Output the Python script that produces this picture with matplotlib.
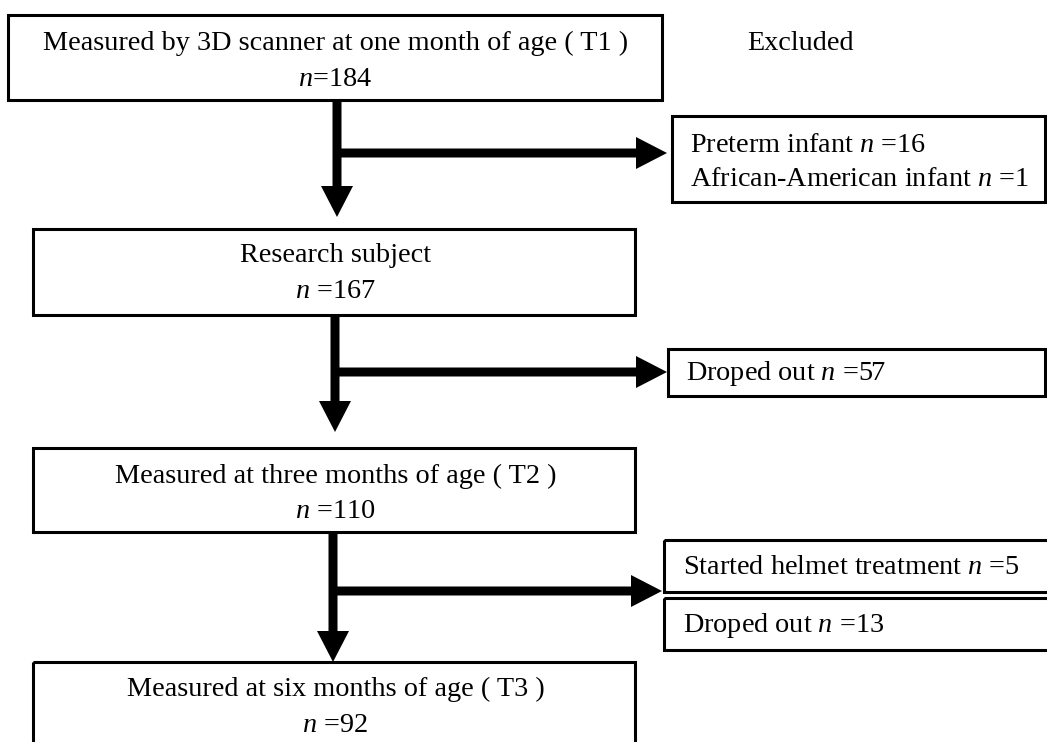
import matplotlib.pyplot as plt
from matplotlib.patches import Rectangle, FancyArrow

plt.rcParams['font.family'] = 'Liberation Serif'
plt.rcParams['mathtext.fontset'] = 'custom'
plt.rcParams['mathtext.rm'] = 'Liberation Serif'
plt.rcParams['mathtext.it'] = 'Liberation Serif:italic'

# flow stages (main column)
stage_labels = ["Measured by 3D scanner at one month of age ( T1 )",
                "Research subject",
                "Measured at three months of age ( T2 )",
                "Measured at six months of age ( T3 )"]
stage_n = ["$n$=184", "$n$ =167", "$n$ =110", "$n$ =92"]

# exclusions (right column), one list of lines per box
excl_text = [["Preterm infant $n$ =16", "African-American infant $n$ =1"],
             ["Droped out $n$ =57"],
             ["Started helmet treatment $n$ =5"],
             ["Droped out $n$ =13"]]

fig = plt.figure(figsize=(10.47, 7.42), dpi=100)
ax = fig.add_axes([0, 0, 1, 1])
ax.set_xlim(0, 1047)
ax.set_ylim(742, 0)
ax.axis('off')

lw = 2.2
fs = 20.3

# main boxes: (x0, y0, x1, y1) in pixels
main_boxes = [(8, 15, 662, 100), (33, 229, 635, 315), (33, 448, 635, 532), (33, 662, 635, 760)]
line_y = [(43, 79), (256, 292), (476, 511), (689, 725)]
for (x0, y0, x1, y1), (ya, yb), lab, n in zip(main_boxes, line_y, stage_labels, stage_n):
    ax.add_patch(Rectangle((x0, y0), x1 - x0, y1 - y0, fill=False, ec='black', lw=lw))
    ax.text(336, ya, lab, ha='center', va='center', fontsize=fs)
    ax.text(335, yb, n, ha='center', va='center', fontsize=fs)

ax.text(801, 43, "Excluded", ha='center', va='center', fontsize=fs)

# exclusion boxes
ex_boxes = [(672, 116, 1045, 202), (668, 349, 1045, 396), (664, 540, 1052, 592), (664, 598, 1052, 650)]
ex_text_xy = [(690, 145), (686, 373), (683, 567), (683, 625)]
for (x0, y0, x1, y1), (tx, ty), lines in zip(ex_boxes, ex_text_xy, excl_text):
    ax.add_patch(Rectangle((x0, y0), x1 - x0, y1 - y0, fill=False, ec='black', lw=lw))
    for k, t in enumerate(lines):
        ax.text(tx, ty + 35 * k, t, ha='left', va='center', fontsize=fs)

# arrows: stem x, stem top, stem tip, branch y, branch tip
arrows = [(337, 100, 217, 153, 667), (335, 315, 432, 372, 667), (333, 532, 662, 591, 662)]
for sx, y0, y1, by, bx in arrows:
    ax.add_patch(FancyArrow(sx, y0, 0, y1 - y0, width=9, head_width=32, head_length=31,
                            length_includes_head=True, color='black', lw=0))
    ax.add_patch(FancyArrow(sx - 4, by, bx - sx + 4, 0, width=9, head_width=32, head_length=31,
                            length_includes_head=True, color='black', lw=0))

fig.savefig('out.png', dpi=100, facecolor='white')
